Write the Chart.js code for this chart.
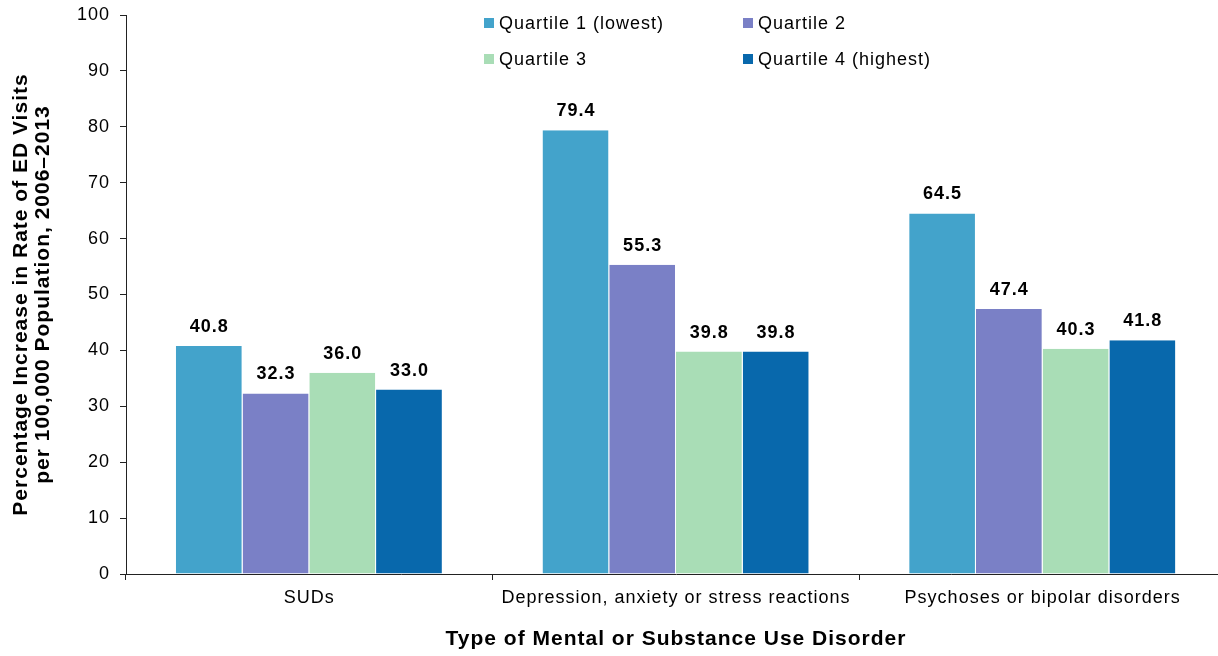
<!DOCTYPE html>
<html>
<head>
<meta charset="utf-8">
<script src="https://cdn.jsdelivr.net/npm/chart.js@4/dist/chart.umd.min.js"></script>
<style>
  html, body { margin: 0; padding: 0; background: #fff; overflow: hidden; }
  #wrap { position: relative; width: 1230px; height: 656px; }
  #legend {
    position: absolute; left: 484px; top: 12px;
    display: grid; grid-template-columns: 259px 259px; row-gap: 14px;
    font: 18px "Liberation Sans", Arial, sans-serif; letter-spacing: 1px; color: #000;
  }
  .lg-item { display: flex; align-items: center; height: 22px; white-space: nowrap; }
  .lg-box { width: 10px; height: 10px; margin-right: 5px; flex: none; }
</style>
</head>
<body>
<div id="wrap">
  <canvas id="chart" width="1230" height="656"></canvas>
  <div id="legend"></div>
</div>
<script>
// 四分位ごとの ED 受診率の増加率（2006–2013）
var categories = ['SUDs', 'Depression, anxiety or stress reactions', 'Psychoses or bipolar disorders'];
var seriesNames = ['Quartile 1 (lowest)', 'Quartile 2', 'Quartile 3', 'Quartile 4 (highest)'];
var q1 = [40.8, 79.4, 64.5];
var q2 = [32.3, 55.3, 47.4];
var q3 = [36.0, 39.8, 40.3];
var q4 = [33.0, 39.8, 41.8];
var yTicks = [0, 10, 20, 30, 40, 50, 60, 70, 80, 90, 100];

var colors = ['#43a3cb', '#7a80c6', '#a9ddb6', '#0868ac'];
var FONT = '"Liberation Sans", Arial, sans-serif';

// 凡例（2列×2行）
var legendEl = document.getElementById('legend');
seriesNames.forEach(function(name, i) {
  var item = document.createElement('div');
  item.className = 'lg-item';
  item.innerHTML = '<span class="lg-box" style="background:' + colors[i] + '"></span>' + name;
  legendEl.appendChild(item);
});

// 文字間隔（元画像の文字幅に合わせる）
var spacingPlugin = {
  id: 'spacing',
  beforeLayout: function(chart) { chart.ctx.letterSpacing = '1px'; },
  beforeDraw: function(chart) { chart.ctx.letterSpacing = '1px'; }
};

// 棒の上の数値ラベル
var valueLabels = {
  id: 'valueLabels',
  afterDatasetsDraw: function(chart) {
    var ctx = chart.ctx;
    ctx.save();
    ctx.font = 'bold 18px ' + FONT;
    ctx.fillStyle = '#000';
    ctx.textAlign = 'center';
    ctx.textBaseline = 'alphabetic';
    chart.data.datasets.forEach(function(ds, i) {
      chart.getDatasetMeta(i).data.forEach(function(bar, j) {
        ctx.fillText(ds.data[j].toFixed(1), bar.x, bar.y - 14);
      });
    });
    ctx.restore();
  }
};

var seriesData = [q1, q2, q3, q4];

new Chart(document.getElementById('chart').getContext('2d'), {
  type: 'bar',
  data: {
    labels: categories,
    datasets: seriesData.map(function(d, i) {
      return {
        label: seriesNames[i],
        data: d,
        backgroundColor: colors[i],
        borderColor: 'rgba(255,255,255,0.6)',
        borderWidth: {top: 0, right: 1, bottom: 0, left: 0},
        borderSkipped: false,
        barPercentage: 1.0,
        categoryPercentage: 0.728
      };
    })
  },
  options: {
    responsive: false,
    animation: false,
    layout: {padding: {top: 15, right: 4, left: 0, bottom: 0}},
    plugins: {
      legend: {display: false},
      tooltip: {enabled: false}
    },
    scales: {
      x: {
        afterFit: function(s) { s.height = 82; s.paddingLeft = 0; s.paddingRight = 0; },
        grid: {offset: true, drawOnChartArea: false, drawTicks: true, tickLength: 6, color: '#222'},
        border: {display: true, color: '#222', width: 1},
        ticks: {color: '#000', padding: 7, maxRotation: 0, font: {family: FONT, size: 18}},
        title: {
          display: true,
          text: 'Type of Mental or Substance Use Disorder',
          color: '#000',
          font: {family: FONT, size: 21, weight: 'bold'},
          padding: {top: 0, bottom: 4}
        }
      },
      y: {
        min: 0,
        max: 100,
        afterFit: function(s) { s.width = 126; s.paddingTop = 0; s.paddingBottom = 0; },
        afterBuildTicks: function(s) { s.ticks = yTicks.map(function(v) { return {value: v}; }); },
        grid: {drawOnChartArea: false, drawTicks: true, tickLength: 6, color: '#222'},
        border: {display: true, color: '#222', width: 1},
        ticks: {color: '#000', padding: 10, font: {family: FONT, size: 18}},
        title: {
          display: true,
          text: ['Percentage Increase in Rate of ED Visits', 'per 100,000 Population, 2006\u20132013'],
          color: '#000',
          font: {family: FONT, size: 21, weight: 'bold', lineHeight: 1.05},
          padding: {top: 10, bottom: 0}
        }
      }
    }
  },
  plugins: [spacingPlugin, valueLabels]
});
</script>
</body>
</html>
